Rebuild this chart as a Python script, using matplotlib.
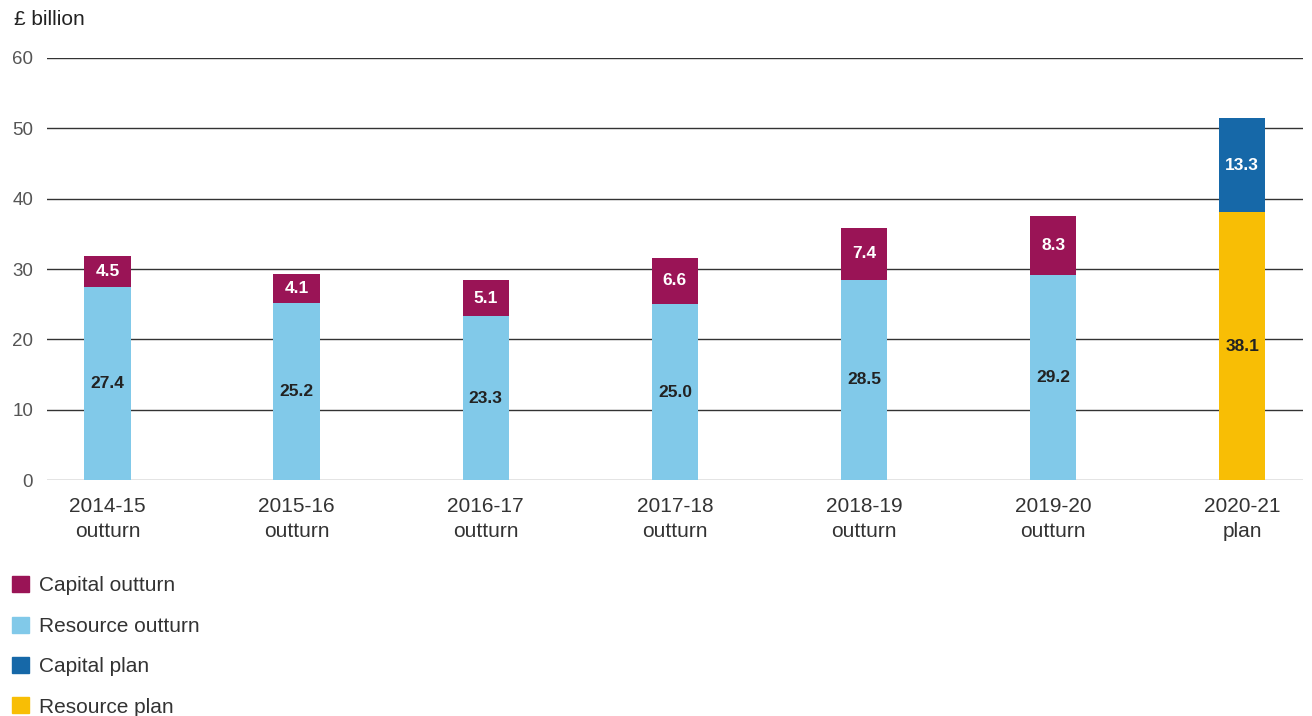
import matplotlib.pyplot as plt
from matplotlib.patches import Patch

plt.rcParams['font.family'] = ['Liberation Sans', 'DejaVu Sans']

# £ billion by year
years = ['2014-15\noutturn', '2015-16\noutturn', '2016-17\noutturn', '2017-18\noutturn',
         '2018-19\noutturn', '2019-20\noutturn', '2020-21\nplan']
resource_outturn = [27.4, 25.2, 23.3, 25.0, 28.5, 29.2]
capital_outturn = [4.5, 4.1, 5.1, 6.6, 7.4, 8.3]
resource_plan = [38.1]
capital_plan = [13.3]
y_ticks = [0, 10, 20, 30, 40, 50, 60]

c_cap_out = '#9A1456'
c_res_out = '#81C9E9'
c_cap_plan = '#1668A8'
c_res_plan = '#F8BE05'

fig = plt.figure(figsize=(13.12, 7.16), dpi=100)
ax = fig.add_axes([0.0358, 0.3296, 0.9572, 0.5894])

width = 0.245
x_out = list(range(len(resource_outturn)))
x_plan = [len(resource_outturn)]

ax.bar(x_out, resource_outturn, width, color=c_res_out, zorder=3)
ax.bar(x_out, capital_outturn, width, bottom=resource_outturn, color=c_cap_out, zorder=3)
ax.bar(x_plan, resource_plan, width, color=c_res_plan, zorder=3)
ax.bar(x_plan, capital_plan, width, bottom=resource_plan, color=c_cap_plan, zorder=3)

def label(xs, vals, bottoms, color):
    for x, v, b in zip(xs, vals, bottoms):
        ax.text(x, b + v / 2, f'{v:.1f}', ha='center', va='center', color=color,
                fontsize=12.5, fontweight='bold', zorder=4)

label(x_out, resource_outturn, [0] * len(x_out), '#222222')
label(x_out, capital_outturn, resource_outturn, 'white')
label(x_plan, resource_plan, [0], '#222222')
label(x_plan, capital_plan, resource_plan, 'white')

ax.set_ylim(0, 60)
ax.set_xlim(-0.32, 6.32)
ax.set_yticks(y_ticks)
ax.set_xticks(range(len(years)))
ax.set_xticklabels(years, fontsize=15, color='#333333', linespacing=1.45)
ax.tick_params(axis='y', labelsize=13.5, labelcolor='#555555', length=0, pad=10)
ax.tick_params(axis='x', length=0, pad=12)
for y in y_ticks:
    ax.axhline(y, color='#333333' if y else '#777777', lw=1.0, zorder=1)
for s in ax.spines.values():
    s.set_visible(False)

fig.text(0.0107, 0.973, '£ billion', fontsize=15, color='#222222', va='center')

handles = [Patch(color=c_cap_out, label='Capital outturn'),
           Patch(color=c_res_out, label='Resource outturn'),
           Patch(color=c_cap_plan, label='Capital plan'),
           Patch(color=c_res_plan, label='Resource plan')]
leg = fig.legend(handles=handles, loc='upper left', bbox_to_anchor=(0.003, 0.207),
                 frameon=False, fontsize=15, handlelength=0.8, handleheight=0.8,
                 handletextpad=0.48, labelspacing=1.02, borderaxespad=0)
for t in leg.get_texts():
    t.set_color('#333333')

fig.savefig('out.png', dpi=100)
